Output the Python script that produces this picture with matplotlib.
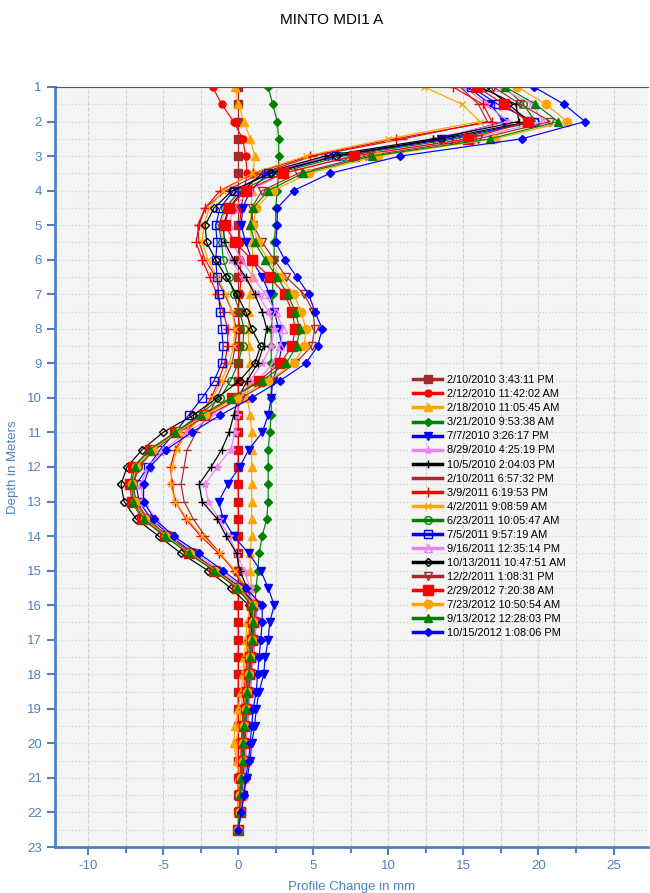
import numpy as np
import matplotlib
matplotlib.use("Agg")
import matplotlib.pyplot as plt
from matplotlib.ticker import MultipleLocator

plt.rcParams['font.family'] = ['Liberation Sans', 'DejaVu Sans']
plt.rcParams['axes.unicode_minus'] = False

# depth of each reading (m)
depth = [1.0, 1.5, 2.0, 2.5, 3.0, 3.5, 4.0, 4.5, 5.0, 5.5, 6.0, 6.5, 7.0, 7.5, 8.0,
         8.5, 9.0, 9.5, 10.0, 10.5, 11.0, 11.5, 12.0, 12.5, 13.0, 13.5, 14.0, 14.5,
         15.0, 15.5, 16.0, 16.5, 17.0, 17.5, 18.0, 18.5, 19.0, 19.5, 20.0, 20.5,
         21.0, 21.5, 22.0, 22.5]

labels = ["2/10/2010 3:43:11 PM", "2/12/2010 11:42:02 AM", "2/18/2010 11:05:45 AM",
          "3/21/2010 9:53:38 AM", "7/7/2010 3:26:17 PM", "8/29/2010 4:25:19 PM",
          "10/5/2010 2:04:03 PM", "2/10/2011 6:57:32 PM", "3/9/2011 6:19:53 PM",
          "4/2/2011 9:08:59 AM", "6/23/2011 10:05:47 AM", "7/5/2011 9:57:19 AM",
          "9/16/2011 12:35:14 PM", "10/13/2011 10:47:51 AM", "12/2/2011 1:08:31 PM",
          "2/29/2012 7:20:38 AM", "7/23/2012 10:50:54 AM", "9/13/2012 12:28:03 PM",
          "10/15/2012 1:08:06 PM"]

s_20100210 = [0.0] * 44
s_20100212 = [-1.7, -1.1, -0.3, 0.3, 0.5, 0.6, 0.4, 0.2, 0.1, 0.1, 0.1, 0.2, 0.1, 0.0, 0.1,
              0.1, 0.0, 0.0, 0.0, 0.0, 0.0, 0.0, 0.0, 0.0, 0.0, 0.0, 0.0, 0.0,
              0.0, 0.0, 0.0, 0.0, 0.0, 0.0, 0.0, 0.0, 0.0, 0.0, 0.0, 0.0,
              0.0, 0.0, 0.0, 0.0]
s_20100218 = [-0.2, 0.0, 0.4, 0.8, 1.1, 1.0, 0.9, 0.9, 0.8, 0.9, 1.0, 0.9, 0.8, 0.7, 0.7,
              0.7, 0.8, 0.7, 0.6, 0.8, 0.9, 0.9, 0.9, 0.9, 0.9, 0.9, 0.9, 0.8,
              0.8, 0.9, 0.8, 0.6, 0.5, 0.4, 0.3, 0.2, 0.0, -0.2, -0.3, -0.1,
              0.0, 0.1, 0.0, 0.0]
s_20100321 = [2.0, 2.3, 2.6, 2.7, 2.7, 2.7, 2.6, 2.5, 2.5, 2.4, 2.4, 2.3, 2.3, 2.3, 2.2,
              2.2, 2.2, 2.2, 2.2, 2.2, 2.1, 2.0, 2.0, 2.0, 2.0, 1.9, 1.6, 1.4,
              1.3, 1.2, 1.1, 1.0, 0.9, 0.8, 0.8, 0.7, 0.6, 0.5, 0.4, 0.4,
              0.3, 0.2, 0.1, 0.0]
s_20100707 = [15.3, 16.8, 17.7, 13.5, 6.0, 2.0, 0.8, 0.3, 0.2, 0.5, 0.9, 1.6, 2.1, 2.4, 2.7,
              2.9, 2.7, 2.3, 2.2, 2.0, 1.6, 0.7, 0.1, -0.7, -1.3, -1.0, -0.3, 0.7,
              1.5, 2.0, 2.4, 2.1, 2.0, 1.8, 1.7, 1.4, 1.2, 1.1, 0.9, 0.8,
              0.6, 0.3, 0.2, 0.0]
s_20100829 = [15.1, 16.5, 18.0, 13.0, 6.0, 1.8, 0.0, -0.8, -1.2, -1.0, -0.5, 0.3, 1.3, 2.0, 2.4,
              2.2, 1.6, 0.8, 0.2, -0.1, -0.2, -0.5, -1.4, -2.2, -2.0, -1.3, -0.6, -0.1,
              0.4, 0.8, 1.2, 1.1, 1.0, 0.9, 0.8, 0.7, 0.6, 0.5, 0.4, 0.4,
              0.3, 0.2, 0.1, 0.0]
s_20101005 = [16.1, 18.5, 18.7, 13.0, 5.8, 1.6, 0.3, -0.6, -1.0, -0.9, -0.3, 0.5, 1.1, 1.6, 1.9,
              1.7, 1.3, 0.6, 0.0, -0.3, -0.6, -1.1, -1.8, -2.6, -2.4, -1.4, -0.8, -0.1,
              0.1, 0.6, 1.0, 0.9, 0.9, 0.8, 0.7, 0.6, 0.5, 0.5, 0.4, 0.3,
              0.3, 0.2, 0.1, 0.0]
s_20110210 = [14.8, 16.0, 16.6, 11.0, 5.0, 1.5, -0.8, -2.2, -2.7, -2.6, -2.2, -1.5, -0.9, -0.4, -0.1,
              -0.2, -0.4, -0.9, -1.4, -2.0, -2.8, -3.4, -3.6, -3.8, -3.6, -3.0, -2.2, -1.2,
              -0.3, 0.4, 0.9, 0.9, 0.8, 0.7, 0.6, 0.5, 0.4, 0.3, 0.2, 0.2,
              0.2, 0.1, 0.1, 0.0]
s_20110309 = [14.3, 16.3, 16.9, 10.5, 4.8, 1.0, -1.2, -2.2, -2.6, -2.8, -2.4, -1.9, -1.4, -1.0, -0.7,
              -0.7, -0.9, -1.3, -1.8, -2.5, -3.5, -4.2, -4.5, -4.4, -4.2, -3.5, -2.5, -1.3,
              -0.2, 0.5, 0.9, 0.8, 0.7, 0.6, 0.5, 0.4, 0.3, 0.3, 0.2, 0.2,
              0.1, 0.1, 0.1, 0.0]
s_20110402 = [12.4, 14.9, 16.1, 10.0, 4.5, 0.9, -1.0, -1.9, -2.3, -2.4, -2.0, -1.4, -0.8, -0.4, -0.2,
              -0.3, -0.6, -1.1, -1.7, -2.4, -3.4, -4.1, -4.4, -4.5, -4.2, -3.4, -2.4, -1.2,
              -0.2, 0.5, 0.8, 0.8, 0.6, 0.5, 0.4, 0.3, 0.2, 0.1, -0.2, 0.0,
              0.1, 0.1, 0.0, 0.0]
s_20110623 = [17.7, 19.0, 19.8, 14.5, 7.0, 2.5, 0.2, -0.9, -1.3, -1.1, -1.0, -0.6, -0.3, 0.1, 0.4,
              0.3, 0.0, -0.5, -1.2, -2.6, -4.2, -5.7, -6.7, -7.0, -6.9, -6.1, -4.8, -3.2,
              -1.5, 0.0, 1.0, 1.1, 1.0, 0.9, 0.8, 0.7, 0.6, 0.5, 0.4, 0.4,
              0.3, 0.2, 0.1, 0.0]
s_20110705 = [15.5, 17.3, 19.7, 14.0, 6.5, 2.0, -0.3, -1.2, -1.5, -1.4, -1.5, -1.4, -1.3, -1.2, -1.1,
              -1.0, -1.1, -1.6, -2.4, -3.3, -4.2, -5.2, -6.0, -6.8, -6.6, -5.8, -4.5, -3.0,
              -1.4, 0.2, 1.2, 1.2, 1.1, 1.0, 0.9, 0.8, 0.7, 0.6, 0.5, 0.5,
              0.4, 0.3, 0.2, 0.0]
s_20110916 = [17.3, 19.6, 20.3, 15.5, 7.5, 3.0, 0.8, -0.3, -0.6, -0.4, 0.2, 1.0, 1.8, 2.5, 3.0,
              2.8, 2.3, 1.3, 0.0, -1.6, -3.4, -5.0, -6.0, -6.5, -6.3, -5.5, -4.3, -2.8,
              -1.2, 0.3, 1.3, 1.2, 1.1, 1.0, 0.9, 0.8, 0.7, 0.6, 0.5, 0.5,
              0.4, 0.3, 0.2, 0.0]
s_20111013 = [16.5, 18.0, 19.4, 13.5, 6.5, 2.2, -0.4, -1.6, -2.2, -2.1, -1.5, -0.8, -0.1, 0.5, 0.9,
              1.5, 1.1, 0.1, -1.4, -3.0, -5.0, -6.4, -7.4, -7.8, -7.6, -6.8, -5.3, -3.8,
              -2.0, -0.5, 0.7, 0.9, 0.9, 0.8, 0.7, 0.6, 0.5, 0.4, 0.3, 0.3,
              0.2, 0.1, 0.1, 0.0]
s_20111202 = [17.0, 18.8, 20.8, 16.0, 8.5, 4.0, 1.6, 0.9, 1.0, 1.6, 2.4, 3.2, 4.4, 5.0, 5.1,
              4.9, 3.8, 2.2, 0.2, -2.0, -4.0, -5.6, -6.6, -7.0, -6.8, -6.0, -4.7, -3.1,
              -1.4, 0.1, 1.1, 1.1, 1.0, 0.9, 0.8, 0.7, 0.6, 0.5, 0.4, 0.4,
              0.3, 0.2, 0.1, 0.0]
s_20120229 = [15.9, 17.7, 19.3, 15.3, 7.7, 3.0, 0.5, -0.6, -0.9, -0.2, 0.9, 2.1, 3.1, 3.6, 3.8,
              3.6, 2.8, 1.4, -0.4, -2.3, -4.2, -5.9, -7.0, -7.2, -7.1, -6.4, -4.9, -3.3,
              -1.6, -0.1, 0.9, 1.0, 0.9, 0.8, 0.7, 0.6, 0.5, 0.4, 0.3, 0.3,
              0.2, 0.1, 0.1, 0.0]
s_20120723 = [18.6, 20.5, 21.9, 17.1, 9.3, 4.7, 2.3, 1.2, 1.0, 1.3, 2.0, 2.8, 3.7, 4.2, 4.5,
              4.4, 3.7, 2.0, -0.1, -2.2, -4.1, -5.7, -6.8, -7.1, -6.9, -6.2, -4.8, -3.2,
              -1.5, 0.0, 1.0, 1.0, 0.9, 0.8, 0.7, 0.6, 0.5, 0.4, 0.3, 0.3,
              0.2, 0.1, 0.1, 0.0]
s_20120913 = [17.8, 19.8, 21.3, 16.8, 8.9, 4.3, 2.0, 1.0, 0.8, 1.1, 1.8, 2.6, 3.3, 3.8, 4.1,
              3.9, 3.2, 1.6, -0.5, -2.5, -4.2, -5.9, -6.9, -7.1, -7.0, -6.3, -4.9, -3.3,
              -1.6, -0.1, 0.9, 1.0, 0.9, 0.8, 0.7, 0.6, 0.5, 0.4, 0.3, 0.3,
              0.2, 0.1, 0.1, 0.0]
s_20121015 = [19.7, 21.7, 23.1, 18.9, 10.8, 6.1, 3.7, 2.6, 2.6, 2.5, 3.1, 3.9, 4.7, 5.1, 5.6,
              5.3, 4.5, 2.8, 0.9, -1.2, -3.1, -4.8, -5.9, -6.3, -6.3, -5.6, -4.3, -2.6,
              -1.0, 0.5, 1.6, 1.6, 1.5, 1.4, 1.3, 1.2, 1.0, 0.9, 0.8, 0.7,
              0.5, 0.4, 0.2, 0.0]

series = [s_20100210, s_20100212, s_20100218, s_20100321, s_20100707, s_20100829,
          s_20101005, s_20110210, s_20110309, s_20110402, s_20110623, s_20110705,
          s_20110916, s_20111013, s_20111202, s_20120229, s_20120723, s_20120913,
          s_20121015]

brown, red, orange, green = '#a52a2a', '#ff0000', '#ffa500', '#008000'
blue, violet, black = '#0000ff', '#ee82ee', '#000000'
# (colour, marker, filled, marker size)
styles = [(brown, 's', True, 5.5), (red, 'o', True, 5), (orange, '^', True, 5.5),
          (green, 'D', True, 4), (blue, 'v', True, 5.5), (violet, '*', True, 6),
          (black, '+', True, 6), (brown, '_', True, 6), (red, '+', True, 7),
          (orange, 'x', True, 5), (green, 'o', False, 5.5), (blue, 's', False, 5.5),
          (violet, '^', False, 5.5), (black, 'D', False, 4.5), (brown, 'v', False, 5.5),
          (red, 's', True, 6.5), (orange, 'o', True, 6), (green, '^', True, 6),
          (blue, 'D', True, 4.5)]

fig = plt.figure(figsize=(6.5, 8.93), dpi=100)
ax = fig.add_axes([0.0846, 0.0515, 0.9124, 0.8511])
ax.set_facecolor('#f4f4f4')

for vals, lab, (c, m, filled, ms) in zip(series, labels, styles):
    ax.plot(vals, depth, color=c, lw=0.85, marker=m, ms=ms, label=lab,
            mfc=c if filled else 'none', mec=c, mew=1.0)

ax.set_xlim(-12.2, 27.3)
ax.set_ylim(23, 1)
ax.xaxis.set_major_locator(MultipleLocator(5))
ax.xaxis.set_minor_locator(MultipleLocator(2.5))
ax.yaxis.set_major_locator(MultipleLocator(1))
ax.yaxis.set_minor_locator(MultipleLocator(0.5))
ax.grid(True, which='both', axis='x', color='#d4d4d4', ls='--', lw=0.8)
ax.grid(True, which='both', axis='y', color='#d4d4d4', ls=':', lw=0.9)
ax.set_axisbelow(True)

tick_blue = '#4f81bd'
ax.tick_params(axis='both', which='major', colors=tick_blue, labelsize=9.5,
               length=6, width=1.5)
ax.tick_params(axis='x', which='minor', colors=tick_blue, length=4, width=1.5)
ax.tick_params(axis='y', which='minor', length=0)
for side in ['left', 'bottom']:
    ax.spines[side].set_color(tick_blue)
    ax.spines[side].set_linewidth(2)
ax.spines['top'].set_color('#555555')
ax.spines['right'].set_visible(False)

ax.set_xlabel("Profile Change in mm", color=tick_blue, fontsize=9.5, labelpad=6)
ax.set_ylabel("Depth in Meters", color=tick_blue, fontsize=9.5, labelpad=6)
fig.text(0.51, 0.978, "MINTO MDI1 A", ha='center', va='center', fontsize=11)

leg = ax.legend(loc='upper left', bbox_to_anchor=(0.595, 0.628), frameon=False,
                fontsize=7.9, handlelength=2.6, labelspacing=0.37, borderpad=0,
                handletextpad=0.45)
for h in leg.get_lines():
    h.set_linewidth(2.5)

fig.savefig("out.png", dpi=100)
